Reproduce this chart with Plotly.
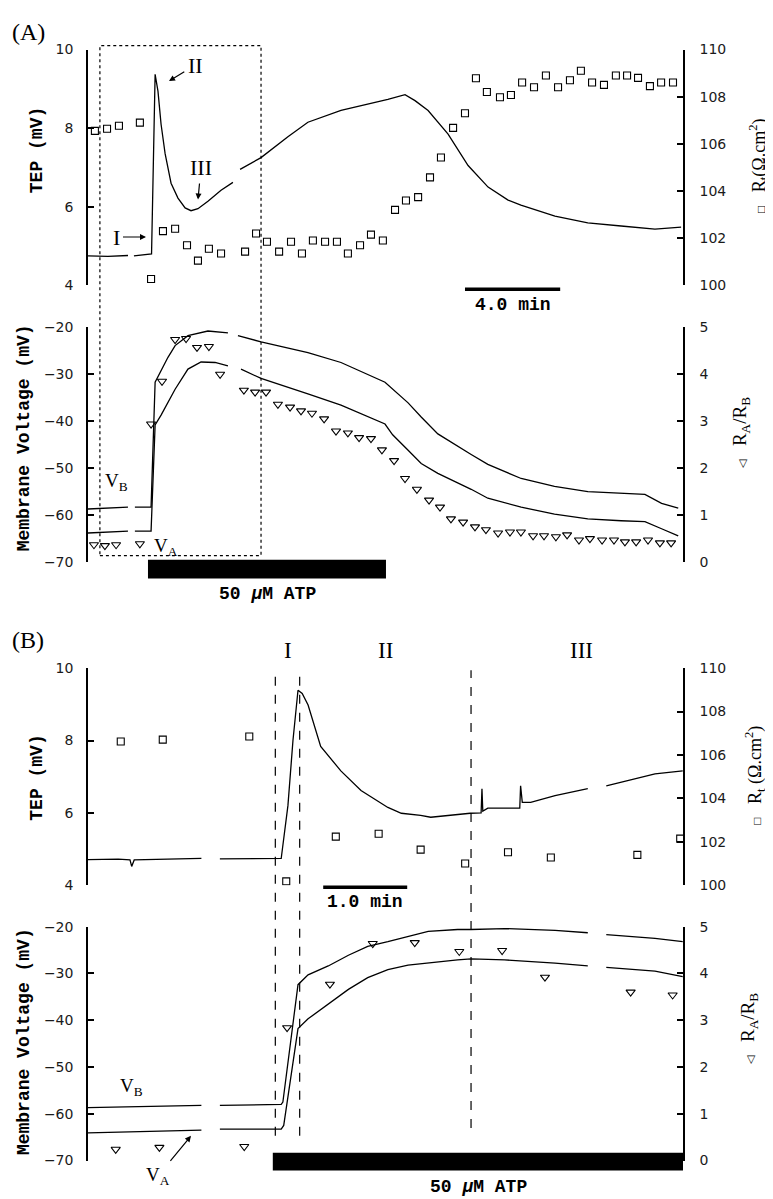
import plotly.graph_objects as go

W, H = 773, 1199


def px(x):
    return x / W


def py(y):
    return 1 - y / H


# ---------------- Panel A (time in min) ----------------
a_tep_t = [0.0, 0.84, 1.68, None, 1.93, 2.6, 2.67, 2.82, 2.94, 3.07, 3.24, 3.49, 3.78, 4.08, 4.33,
           4.62, 5.04, 5.59, 6.09, None, 6.39, 7.27, 8.4, 9.24, 10.63, 12.06, 12.6, 13.32, 13.74,
           14.29, 15.13, 15.97, 16.81, 17.65, 18.19, 19.62, 21.0, 22.4, 23.82, 24.92]
a_tep_v = [4.75, 4.74, 4.76, None, 4.75, 4.78, 4.8, 9.37, 8.94, 8.1, 7.35, 6.6, 6.22, 5.97, 5.9,
           5.95, 6.14, 6.42, 6.62, None, 6.95, 7.25, 7.78, 8.15, 8.45, 8.65, 8.73, 8.85, 8.7,
           8.45, 7.85, 7.05, 6.5, 6.17, 6.04, 5.76, 5.59, 5.51, 5.43, 5.48]

a_rt_t = [0.29, 0.8, 1.3, 2.18, 2.65, 3.15, 3.66, 4.16, 4.62, 5.08, 5.59, 6.6, 7.06, 7.52, 8.03,
          8.53, 8.99, 9.45, 9.96, 10.46, 10.92, 11.43, 11.89, 12.39, 12.9, 13.36, 13.87, 14.37,
          14.83, 15.34, 15.84, 16.3, 16.76, 17.31, 17.77, 18.24, 18.74, 19.24, 19.75, 20.25,
          20.71, 21.18, 21.68, 22.18, 22.65, 23.11, 23.61, 24.08, 24.58]
a_rt_v = [106.55, 106.64, 106.77, 106.9, 100.27, 102.3, 102.4, 101.7, 101.05, 101.55, 101.35,
          101.43, 102.2, 101.85, 101.43, 101.85, 101.35, 101.9, 101.85, 101.85, 101.35, 101.7,
          102.15, 101.9, 103.2, 103.6, 103.74, 104.58, 105.42, 106.68, 107.3, 108.78, 108.2,
          107.98, 108.07, 108.6, 108.4, 108.9, 108.4, 108.7, 109.1, 108.6, 108.5, 108.9, 108.9,
          108.8, 108.45, 108.6, 108.6]

a_vb_t = [0.0, 1.68, None, 1.97, 2.65, 2.82, 3.07, 3.36, 3.66, 4.2, 5.04, 5.88, None, 6.3, 7.27,
          9.24, 10.63, 12.48, 12.8, 13.45, 14.0, 14.7, 16.1, 16.8, 18.2, 19.6, 21.0, 22.4, 23.4,
          24.1, 24.8]
a_vb_v = [-58.8, -58.4, None, -58.4, -58.4, -31.8, -29.3, -26.5, -24.0, -21.9, -20.9, -21.3, None,
          -21.9, -23.2, -25.5, -27.6, -31.8, -33.3, -36.2, -39.2, -42.8, -47.2, -49.3, -52.3,
          -54.0, -55.1, -55.4, -55.7, -57.6, -58.6]

a_va_t = [0.0, 1.68, None, 1.97, 2.65, 2.82, 3.07, 3.66, 4.2, 4.75, 5.34, 5.88, None, 6.43, 7.27,
          9.24, 10.63, 12.48, 12.8, 13.45, 14.0, 14.7, 16.1, 16.8, 18.2, 19.6, 21.0, 22.4, 23.4,
          24.1, 24.8]
a_va_v = [-63.9, -63.5, None, -63.5, -63.5, -40.9, -38.8, -33.3, -29.0, -27.5, -27.6, -28.3, None,
          -29.0, -31.0, -34.3, -36.7, -40.7, -43.0, -46.3, -49.1, -51.2, -54.6, -56.5, -58.4,
          -59.9, -60.9, -61.3, -61.5, -63.0, -64.5]

a_ratio_t = [0.25, 0.71, 1.18, 2.18, 2.65, 3.11, 3.66, 4.12, 4.58, 5.08, 5.55, 6.55, 7.02, 7.48,
             7.98, 8.49, 8.95, 9.41, 9.92, 10.42, 10.92, 11.39, 11.89, 12.35, 12.86, 13.32, 13.82,
             14.33, 14.79, 15.25, 15.76, 16.26, 16.72, 17.23, 17.73, 18.19, 18.7, 19.16, 19.66,
             20.13, 20.63, 21.09, 21.6, 22.1, 22.56, 23.03, 23.53, 24.03, 24.5]
a_ratio_v = [0.36, 0.34, 0.36, 0.38, 2.93, 3.84, 4.73, 4.75, 4.56, 4.58, 3.99, 3.65, 3.61, 3.61,
             3.35, 3.29, 3.21, 3.16, 3.04, 2.78, 2.74, 2.64, 2.62, 2.38, 2.15, 1.77, 1.54, 1.31,
             1.16, 0.91, 0.84, 0.74, 0.68, 0.61, 0.63, 0.63, 0.55, 0.55, 0.53, 0.57, 0.46, 0.49,
             0.46, 0.46, 0.42, 0.42, 0.46, 0.4, 0.4]

a_atp = [2.52, 12.52]          # ATP application (min)
a_box = [0.5, 7.27]            # region expanded in panel B (min)
a_scale = [15.84, 19.84]       # 4.0 min scale bar

# ---------------- Panel B (time in min) ----------------
b_tep_t = [0.0, 0.36, 0.5, 0.52, 0.55, 1.35, None, 1.57, 2.3, 2.38, 2.44, 2.5, 2.55, 2.62, 2.77,
           3.01, 3.25, 3.57, 3.73, 3.96, 4.08, 4.55, 4.68, 4.69, 4.7, 4.76, 5.14, 5.15, 5.17, 5.27,
           5.56, 5.95, None, 6.17, 6.43, 6.75, 7.08]
b_tep_v = [4.71, 4.72, 4.7, 4.52, 4.7, 4.74, None, 4.73, 4.74, 6.2, 8.0, 9.39, 9.3, 8.98, 7.84,
           7.16, 6.62, 6.15, 5.99, 5.93, 5.88, 5.99, 6.0, 6.67, 6.05, 6.13, 6.13, 6.75, 6.29, 6.29,
           6.48, 6.67, None, 6.75, 6.89, 7.08, 7.16]

b_rt_t = [0.39, 0.89, 1.92, 2.36, 2.95, 3.46, 3.96, 4.49, 5.0, 5.51, 6.54, 7.05]
b_rt_v = [106.62, 106.71, 106.85, 100.18, 102.24, 102.37, 101.64, 101.0, 101.52, 101.28, 101.4,
          102.15]

b_vb_t = [0.0, 1.35, None, 1.57, 2.3, 2.32, 2.5, 2.62, 2.86, 3.1, 3.33, 3.57, 3.81, 4.05, 4.4,
          4.56, 4.96, 5.56, 5.95, None, 6.17, 6.75, 7.08]
b_vb_v = [-58.7, -58.2, None, -58.2, -58.0, -57.5, -32.4, -30.3, -28.4, -26.1, -24.2, -23.2,
          -22.1, -21.0, -20.6, -20.6, -20.4, -20.8, -21.3, None, -21.7, -22.5, -23.2]

b_va_t = [0.0, 1.35, None, 1.57, 2.3, 2.33, 2.5, 2.62, 2.92, 3.1, 3.33, 3.57, 3.81, 4.01, 4.4,
          4.56, 4.96, 5.56, 5.95, None, 6.17, 6.75, 7.08]
b_va_v = [-64.1, -63.5, None, -63.3, -63.3, -62.5, -41.8, -39.7, -35.8, -33.4, -30.9, -29.2,
          -28.2, -27.8, -27.1, -26.9, -27.1, -27.8, -28.4, None, -28.7, -29.5, -30.7]

b_ratio_t = [0.33, 0.85, 1.86, 2.37, 2.88, 3.39, 3.89, 4.42, 4.93, 5.44, 6.46, 6.96]
b_ratio_v = [0.24, 0.28, 0.3, 2.84, 3.77, 4.64, 4.66, 4.47, 4.49, 3.92, 3.6, 3.54]

b_atp = [2.2, 7.1]
b_phase = [2.23, 2.52, 4.56]   # phase boundaries I | II | III
b_phase_labels = ["I", "II", "III"]
b_scale = [2.8, 3.8]           # 1.0 min scale bar

# ---------------- figure ----------------
fig = go.Figure()
LW = 1.3
line = dict(color="black", width=LW)
sq = dict(symbol="square-open", size=7, color="black", line=dict(width=1.1, color="black"))
tri = dict(symbol="triangle-down-open", size=8, color="black", line=dict(width=1.1, color="black"))

fig.add_trace(go.Scatter(x=a_tep_t, y=a_tep_v, mode="lines", line=line, xaxis="x", yaxis="y"))
fig.add_trace(go.Scatter(x=a_rt_t, y=a_rt_v, mode="markers", marker=sq, xaxis="x", yaxis="y2"))
fig.add_trace(go.Scatter(x=a_vb_t, y=a_vb_v, mode="lines", line=line, xaxis="x2", yaxis="y3"))
fig.add_trace(go.Scatter(x=a_va_t, y=a_va_v, mode="lines", line=line, xaxis="x2", yaxis="y3"))
fig.add_trace(go.Scatter(x=a_ratio_t, y=a_ratio_v, mode="markers", marker=tri, xaxis="x2", yaxis="y4"))

fig.add_trace(go.Scatter(x=b_tep_t, y=b_tep_v, mode="lines", line=line, xaxis="x3", yaxis="y5"))
fig.add_trace(go.Scatter(x=b_rt_t, y=b_rt_v, mode="markers", marker=sq, xaxis="x3", yaxis="y6"))
fig.add_trace(go.Scatter(x=b_vb_t, y=b_vb_v, mode="lines", line=line, xaxis="x4", yaxis="y7"))
fig.add_trace(go.Scatter(x=b_va_t, y=b_va_v, mode="lines", line=line, xaxis="x4", yaxis="y7"))
fig.add_trace(go.Scatter(x=b_ratio_t, y=b_ratio_v, mode="markers", marker=tri, xaxis="x4", yaxis="y8"))

XDOM = [px(80), px(675)]
tickfont = dict(family="DejaVu Sans", size=14, color="#1a1a1a")


def yax(dom_px, rng, dtick, anchor, side="left", overlay=None):
    d = dict(domain=[py(dom_px[1]), py(dom_px[0])], range=rng, dtick=dtick, tick0=rng[0],
             anchor=anchor, side=side, showline=True, linecolor="black", linewidth=1.5,
             ticks="inside", ticklen=6, tickwidth=1.5, tickcolor="black", showgrid=False,
             zeroline=False, tickfont=tickfont, ticklabelstandoff=10 if side == "left" else 12)
    if overlay:
        d["overlaying"] = overlay
    return d


xcommon = dict(domain=XDOM, visible=False, showgrid=False, zeroline=False)
fig.update_layout(
    width=W, height=H, autosize=False, showlegend=False,
    margin=dict(l=0, r=0, t=0, b=0),
    paper_bgcolor="white", plot_bgcolor="rgba(0,0,0,0)",
    xaxis=dict(xcommon, range=[0, 25], anchor="y"),
    xaxis2=dict(xcommon, range=[0, 25], anchor="y3"),
    xaxis3=dict(xcommon, range=[0, 595 / 84], anchor="y5"),
    xaxis4=dict(xcommon, range=[0, 595 / 84], anchor="y7"),
    yaxis=yax([34, 273], [4, 10], 2, "x"),
    yaxis2=yax([34, 273], [100, 110], 2, "x", "right", "y"),
    yaxis3=yax([315, 553], [-70, -20], 10, "x2"),
    yaxis4=yax([315, 553], [0, 5], 1, "x2", "right", "y3"),
    yaxis5=yax([661, 881], [4, 10], 2, "x3"),
    yaxis6=yax([661, 881], [100, 110], 2, "x3", "right", "y5"),
    yaxis7=yax([923, 1160], [-70, -20], 10, "x4"),
    yaxis8=yax([923, 1160], [0, 5], 1, "x4", "right", "y7"),
)

shapes = []
# ATP bars
shapes.append(dict(type="rect", xref="x2", yref="paper", x0=a_atp[0], x1=a_atp[1],
                   y0=py(570), y1=py(551), fillcolor="black", line=dict(width=0)))
shapes.append(dict(type="rect", xref="x4", yref="paper", x0=b_atp[0], x1=b_atp[1],
                   y0=py(1170), y1=py(1152), fillcolor="black", line=dict(width=0)))
# dotted box in A
shapes.append(dict(type="rect", xref="x", yref="paper", x0=a_box[0], x1=a_box[1],
                   y0=py(547), y1=py(30), line=dict(color="black", width=1.2, dash="dot")))
# scale bars
shapes.append(dict(type="line", xref="x", yref="paper", x0=a_scale[0], x1=a_scale[1],
                   y0=py(277), y1=py(277), line=dict(color="black", width=3.5)))
shapes.append(dict(type="line", xref="x3", yref="paper", x0=b_scale[0], x1=b_scale[1],
                   y0=py(883), y1=py(883), line=dict(color="black", width=3.5)))
# phase boundaries in B
for i, t in enumerate(b_phase):
    shapes.append(dict(type="line", xref="x3", yref="paper", x0=t, x1=t,
                       y0=py(1135 if i < 2 else 1127), y1=py(663),
                       line=dict(color="black", width=1.2, dash="dash")))
fig.update_layout(shapes=shapes)

serif = "Liberation Serif"
mono = "Liberation Mono"
ann = []


def txt(x, y, text, size, family=serif, angle=0, **kw):
    d = dict(x=px(x), y=py(y), xref="paper", yref="paper", text=text, showarrow=False,
             font=dict(family=family, size=size, color="black"), textangle=angle,
             xanchor="center", yanchor="middle")
    d.update(kw)
    ann.append(d)


def arrow(xh, yh, ax, ay, text, size, family=serif):
    ann.append(dict(x=px(xh), y=py(yh), xref="paper", yref="paper", text=text, showarrow=True,
                    ax=ax, ay=ay, axref="pixel", ayref="pixel", arrowhead=2, arrowsize=1,
                    arrowwidth=1.2, arrowcolor="black", standoff=0, startstandoff=2,
                    font=dict(family=family, size=size, color="black")))


txt(20, 16, "(A)", 24)
txt(20, 632, "(B)", 24)

# panel A labels
arrow(138, 224, -30, 0, "I", 22)
arrow(161, 66, 26, -16, "II", 22)
arrow(190, 186, 3, -32, "III", 22)
txt(108, 472, "V<sub>B</sub>", 19)
txt(158, 538, "V<sub>A</sub>", 19)
txt(505, 293, "<b>4.0 min</b>", 18, mono)
txt(259, 586, "<b>50 <i>μ</i>M ATP</b>", 18, mono)

# panel B labels
for t, lab in zip([(267 + 292) / 2, 377, 573], b_phase_labels):
    txt(t, 643, lab, 23)
txt(123, 1085, "V<sub>B</sub>", 19)
arrow(183, 1135, -33, 40, "V<sub>A</sub>", 19)
txt(357, 898, "<b>1.0 min</b>", 18, mono)
txt(470, 1187, "<b>50 <i>μ</i>M ATP</b>", 18, mono)

# axis titles
txt(29, 136, "<b>TEP (mV)</b>", 18, mono, -90)
txt(16, 428, "<b>Membrane Voltage (mV)</b>", 18, mono, -90)
txt(29, 772, "<b>TEP (mV)</b>", 18, mono, -90)
txt(16, 1040, "<b>Membrane Voltage (mV)</b>", 18, mono, -90)

sq_sym = '<span style="font-size:12px">□</span>'
tri_sym = '<span style="font-size:11px">◁</span>'
txt(751, 152, sq_sym + "   R<sub>t</sub>(Ω.cm<sup>2</sup>)", 18, serif, -90)
txt(733, 422, tri_sym + "   R<sub>A</sub>/R<sub>B</sub>", 19, serif, -90)
txt(747, 770, sq_sym + "   R<sub>t</sub> (Ω.cm<sup>2</sup>)", 18, serif, -90)
txt(741, 1026, tri_sym + "   R<sub>A</sub>/R<sub>B</sub>", 19, serif, -90)

fig.update_layout(annotations=ann)
fig.write_html("out.html")
